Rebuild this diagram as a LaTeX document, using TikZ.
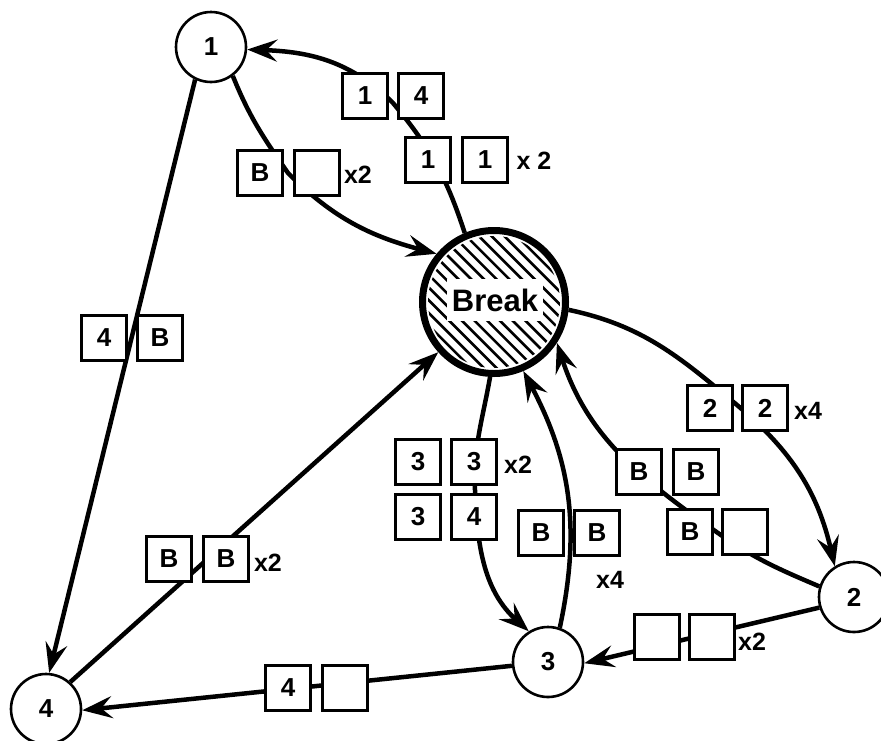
\documentclass[tikz,border=0pt]{standalone}
\usepackage{fontspec}
\setmainfont{Liberation Sans}
\usetikzlibrary{arrows.meta,calc}

\tikzset{
    site/.style={circle,draw,line width=2.6pt,minimum size=70pt,inner sep=0pt,
        font=\fontsize{26}{26}\selectfont\bfseries},
    cell/.style={draw,line width=2.5pt,fill=white,minimum size=45pt,inner sep=0pt,
        font=\fontsize{26}{26}\selectfont\bfseries},
    tag/.style={inner sep=0pt,font=\fontsize{25}{25}\selectfont\bfseries},
    conn/.style={line width=4.5pt,-{Stealth[length=30pt,width=22pt,inset=11pt]}}
}

\begin{document}
\begin{tikzpicture}[x=1pt,y=1pt]
                \useasboundingbox (0,-740) rectangle (881,0);
                \node[site] (n1) at (211,-47) {1};
                \node[site] (n2) at (854,-597) {2};
                \node[site] (n3) at (548,-662) {3};
                \node[site] (n4) at (46,-709) {4};
                \node[circle,draw,line width=7pt,minimum size=143pt] (brk) at (494,-302) {};
                \begin{scope}
                    \clip (brk.center) circle (66);
                    \foreach \k in {-9,...,9}
                        \draw[line width=2.6pt] ($(brk.center)+(\k*12.7-100,100)$) -- ++(200,-200);
                \end{scope}
                \node[fill=white,inner sep=0pt,minimum width=96pt,minimum height=42pt,
                    font=\fontsize{31}{31}\selectfont\bfseries] (brklbl) at (495,-300) {Break};
                \coordinate (v1) at (393,-103);
                \coordinate (v2) at (288,-173);
                \coordinate (v3) at (475,-490);
                \coordinate (v4) at (737,-405);
                \coordinate (v5) at (718,-533);
                \draw[conn] (brk.113) to[out=108,in=-50] (v1) to[out=135,in=-2] (n1.-4);
                \draw[conn] (n1.-53) to[out=-68,in=125] (v2) to[out=-45,in=165] (brk.140);
                \draw[conn] (n1.244) -- (n4.85);
                \draw[conn] (n4.48) -- (brk.222);
                \draw[conn] (n3.186) -- (n4.-2);
                \draw[conn] (n2.197) -- (n3.-2);
                \draw[conn] (brk.267) to[out=-100,in=92] (v3) to[out=-88,in=138] (n3.122);
                \draw[conn] (n3.71) to[out=78,in=-62] (brk.-67);
                \draw[conn] (brk.-6) to[out=-12,in=140] (v4) to[out=-40,in=103] (n2.122);
                \draw[conn] (n2.163) to[out=157,in=-35] (v5) to[out=145,in=-72] (brk.-33);
                \foreach \nm/\x/\y/\t in {a1/365/-96/1, a2/421/-96/4, a3/428/-160/1, a4/485/-160/1,
                        b1/260/-173/B, b2/317/-173/{}, c1/104/-338/4, c2/160/-338/B,
                        d1/169/-559/B, d2/226/-559/B, e1/288/-688/4, e2/345/-688/{},
                        f1/657/-637/{}, f2/712/-637/{},
                        g1/418/-462/3, g2/474/-462/3, g3/418/-517/3, g4/474/-517/4,
                        h1/541/-533/B, h2/597/-533/B, i1/710/-408/2, i2/765/-408/2,
                        j1/639/-472/B, j2/696/-472/B, j3/690/-532/B, j4/745/-532/{}}
                    \node[cell] (\nm) at (\x,\y) {\t};
                \node[tag] (t1) at (534,-161) {x 2};
                \node[tag] (t2) at (358,-175) {x2};
                \node[tag] (t3) at (268,-563) {x2};
                \node[tag] (t4) at (752,-642) {x2};
                \node[tag] (t5) at (518,-465) {x2};
                \node[tag] (t6) at (610,-580) {x4};
                \node[tag] (t7) at (808,-411) {x4};
\end{tikzpicture}
\end{document}
